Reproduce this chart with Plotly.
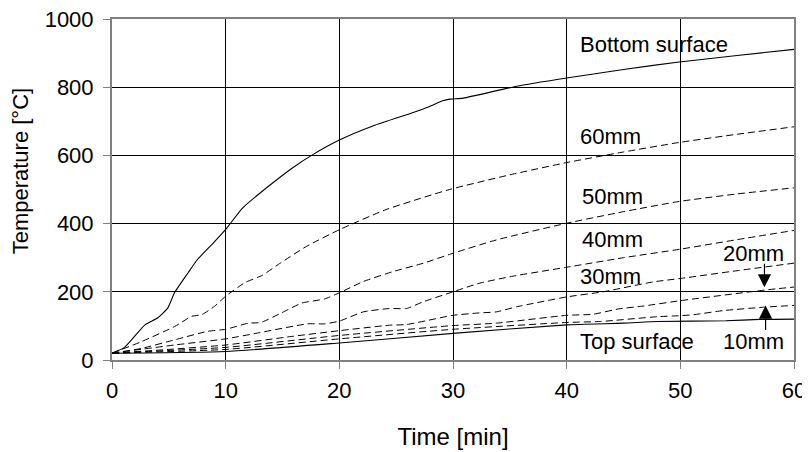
import plotly.graph_objects as go

# ---- data ----
time_bottom = [0, 1.1, 2.9, 4.0, 4.9, 5.5, 6.7, 7.5, 8.9, 10.1, 11.5, 13.6, 15.9, 17.7, 20, 23, 26.5, 27.9, 29.1, 29.7, 30.9, 35.6, 40, 45, 49.9, 55, 60]
temp_bottom = [20, 37, 103, 123, 152, 197, 256, 294, 343, 387, 446, 505, 564, 603, 645, 687, 726, 743, 760, 765, 768, 803, 827, 852, 874, 893, 911]

time_60 = [0, 2.6, 5.5, 7.0, 7.9, 9.0, 10.0, 11.7, 13.2, 14.8, 17.1, 20, 24.1, 29.7, 35, 40, 45, 49.9, 55, 60]
temp_60 = [20, 54, 98, 128, 133, 157, 187, 227, 248, 284, 333, 382, 441, 500, 543, 579, 610, 638, 662, 684]

time_50 = [0, 2.6, 5.5, 8.4, 10, 12, 13.1, 14.9, 16.7, 18.7, 20, 22.1, 24.7, 27.4, 30, 33.8, 40, 45, 49.9, 55, 60]
temp_50 = [20, 34, 59, 84, 90, 108, 110, 138, 167, 179, 197, 230, 259, 284, 313, 352, 401, 435, 465, 487, 505]

time_40 = [0, 5.5, 10, 12.8, 17.2, 18.7, 20, 22.1, 24.4, 25.9, 27.4, 30, 32.3, 35.3, 40, 45, 50, 55, 60]
temp_40 = [20, 44, 62, 79, 106, 106, 114, 141, 151, 151, 171, 200, 225, 246, 272, 300, 325, 353, 380]

time_30 = [0, 5, 10, 15.8, 20, 24.4, 25.9, 30, 32.3, 33.8, 35.6, 40, 43.2, 47.6, 50, 55, 60]
temp_30 = [20, 31, 44, 69, 86, 102, 104, 131, 138, 141, 156, 185, 200, 229, 239, 262, 284]

time_20 = [0, 10, 20, 30, 33.8, 40, 42.3, 44.6, 46.7, 50, 57.4, 60]
temp_20 = [20, 37, 72, 101, 108, 131, 134, 150, 158, 174, 205, 214]

time_10 = [0, 10, 20, 30, 40, 43, 48, 50, 51.2, 53.8, 57.4, 60]
temp_10 = [20, 31, 62, 90, 110, 113, 127, 130, 133, 145, 155, 160]

time_top = [0, 10, 20, 30, 40, 45, 48, 54, 57, 60]
temp_top = [20, 25, 50, 78, 103, 108, 113, 115, 119, 120]

x_ticks = [0, 10, 20, 30, 40, 50, 60]
y_ticks = [0, 200, 400, 600, 800, 1000]

FONT = "Liberation Sans, Arial, sans-serif"

fig = go.Figure()

series = [
    (time_bottom, temp_bottom, "solid", "Bottom surface"),
    (time_60, temp_60, "7px,4px", "60mm"),
    (time_50, temp_50, "7px,4px", "50mm"),
    (time_40, temp_40, "7px,4px", "40mm"),
    (time_30, temp_30, "7px,4px", "30mm"),
    (time_20, temp_20, "7px,4px", "20mm"),
    (time_10, temp_10, "7px,4px", "10mm"),
    (time_top, temp_top, "solid", "Top surface"),
]
for t, T, dash, name in series:
    fig.add_trace(go.Scatter(
        x=t, y=T, mode="lines", name=name,
        line=dict(color="black", width=1.1 if dash == "solid" else 1.0,
                  dash=dash, shape="spline", smoothing=0.5),
        showlegend=False, hoverinfo="skip",
    ))

labels = [
    ("Bottom surface", 41.0, 924, "left"),
    ("60mm", 41.0, 656, "left"),
    ("50mm", 41.2, 479, "left"),
    ("40mm", 41.2, 352, "left"),
    ("30mm", 41.0, 246, "left"),
    ("Top surface", 41.0, 54, "left"),
    ("20mm", 56.4, 313, "center"),
    ("10mm", 56.4, 54, "center"),
]
for text, x, y, anchor in labels:
    fig.add_annotation(x=x, y=y, text=text, showarrow=False,
                       xanchor=anchor, yanchor="middle",
                       font=dict(family=FONT, size=22, color="black"))

# arrows pointing at the 20mm and 10mm curves
fig.add_annotation(x=57.4, y=213, ax=0, ay=-25, text="", showarrow=True,
                   arrowhead=2, arrowsize=2.2, arrowwidth=1.2, arrowcolor="black",
                   standoff=0)
fig.add_annotation(x=57.5, y=160, ax=0, ay=26, text="", showarrow=True,
                   arrowhead=2, arrowsize=2.2, arrowwidth=1.2, arrowcolor="black",
                   standoff=0)

# y axis title (placed slightly above the plot centre, as in the reference)
fig.add_annotation(xref="paper", yref="paper", x=-0.134, y=0.555,
                   text="Temperature [°C]", textangle=-90, showarrow=False,
                   xanchor="center", yanchor="middle",
                   font=dict(family=FONT, size=22, color="black"))

axis_common = dict(
    showgrid=True, gridcolor="black", gridwidth=1,
    showline=True, linecolor="#808080", linewidth=2, mirror=True,
    ticks="outside", ticklen=7, tickcolor="#808080", tickwidth=1,
    zeroline=False, automargin=False, ticklabeloverflow="allow",
    tickfont=dict(family=FONT, size=22, color="black"),
)

fig.update_xaxes(range=[0, 60], tickvals=x_ticks, ticklabelstandoff=3,
                 title=dict(text="Time [min]", font=dict(family=FONT, size=24, color="black"), standoff=26),
                 **axis_common)
fig.update_yaxes(range=[0, 1000], tickvals=y_ticks, ticklabelstandoff=5,
                 **axis_common)

# the page body adds an 8px offset; margins chosen so the plot area lands where the reference has it
fig.update_layout(
    width=810, height=452,
    margin=dict(l=104, r=24, t=11, b=100),
    plot_bgcolor="white", paper_bgcolor="white",
    font=dict(family=FONT, color="black"),
)

fig.write_html("out.html")
